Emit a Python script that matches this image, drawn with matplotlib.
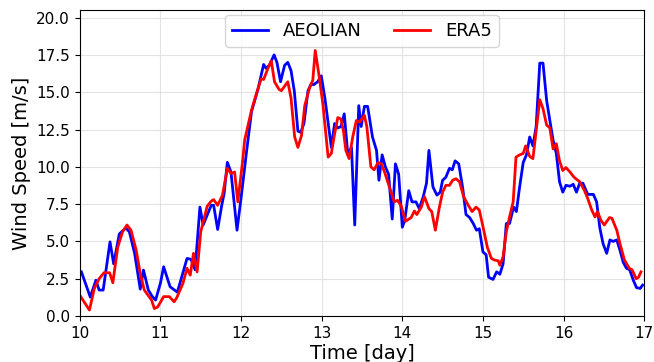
import numpy as np
import matplotlib
matplotlib.use("Agg")
import matplotlib.pyplot as plt

# AEOLIAN winds (blue)
t_aeolian = [10.02, 10.13, 10.2, 10.24, 10.29, 10.375, 10.42, 10.49, 10.57, 10.615,
             10.68, 10.75, 10.79, 10.85, 10.9, 10.94, 11.0, 11.04, 11.12, 11.21,
             11.33, 11.38, 11.43, 11.49, 11.53, 11.63, 11.66, 11.71, 11.76, 11.79,
             11.83, 11.875, 11.95, 12.0, 12.07, 12.13, 12.21, 12.28, 12.31, 12.35,
             12.41, 12.445, 12.49, 12.54, 12.58, 12.62, 12.66, 12.705, 12.74, 12.78,
             12.83, 12.87, 12.9, 12.95, 12.995, 13.04, 13.12, 13.16, 13.2, 13.24,
             13.28, 13.325, 13.37, 13.41, 13.46, 13.49, 13.53, 13.57, 13.63, 13.68,
             13.71, 13.75, 13.79, 13.83, 13.875, 13.915, 13.955, 14.0, 14.03, 14.08,
             14.12, 14.17, 14.21, 14.26, 14.3, 14.33, 14.38, 14.43, 14.47, 14.5,
             14.54, 14.585, 14.62, 14.655, 14.7, 14.75, 14.79, 14.835, 14.88, 14.92,
             14.955, 15.0, 15.04, 15.07, 15.125, 15.17, 15.21, 15.25, 15.29, 15.33,
             15.38, 15.415, 15.455, 15.5, 15.54, 15.58, 15.62, 15.66, 15.705, 15.745,
             15.79, 15.83, 15.87, 15.91, 15.95, 15.99, 16.03, 16.08, 16.12, 16.16,
             16.2, 16.24, 16.3, 16.37, 16.41, 16.45, 16.49, 16.535, 16.575, 16.615,
             16.66, 16.7, 16.74, 16.78, 16.82, 16.865, 16.905, 16.95, 16.98]
v_aeolian = [2.96, 1.27, 2.4, 1.74, 1.74, 4.97, 3.5, 5.5, 5.9, 5.64,
             4.2, 1.8, 3.08, 1.74, 1.3, 1.07, 2.2, 3.3, 1.96, 1.6,
             3.86, 3.8, 3.1, 7.3, 6.1, 7.42, 7.42, 5.8, 7.4, 8.2,
             10.3, 9.65, 5.75, 7.9, 11.1, 13.7, 15.2, 16.86, 16.6, 16.8,
             17.5, 17.0, 15.7, 16.8, 17.0, 16.45, 15.1, 12.4, 12.3, 12.9,
             15.1, 15.55, 15.5, 15.7, 16.1, 14.6, 11.3, 12.9, 12.6, 12.7,
             13.55, 10.8, 11.3, 6.1, 14.1, 12.7, 14.05, 14.05, 12.0, 11.1,
             9.1, 10.8, 10.0, 9.5, 6.5, 10.2, 9.5, 5.95, 6.4, 8.4,
             7.65, 7.65, 7.2, 8.0, 8.9, 11.1, 8.65, 8.1, 8.3, 9.1,
             9.3, 9.9, 9.8, 10.4, 10.2, 8.55, 6.8, 6.6, 6.2, 5.75,
             5.85, 4.3, 4.1, 2.6, 2.45, 2.96, 2.8, 3.5, 6.2, 6.2,
             7.3, 7.0, 8.65, 10.3, 10.8, 12.0, 11.4, 12.7, 16.95, 16.95,
             14.45, 13.1, 11.8, 10.9, 9.0, 8.3, 8.76, 8.7, 8.83, 8.3,
             8.9, 8.9, 8.15, 8.15, 7.65, 5.9, 4.85, 4.2, 5.1, 5.0,
             5.1, 4.4, 3.6, 3.2, 3.1, 2.4, 1.9, 1.85, 2.07]

# ERA5 reanalysis (red)
t_era5 = [10.0, 10.065, 10.12, 10.18, 10.24, 10.3, 10.37, 10.41, 10.47, 10.53,
          10.585, 10.635, 10.7, 10.75, 10.8, 10.845, 10.89, 10.925, 10.965, 11.04,
          11.11, 11.17, 11.2, 11.28, 11.33, 11.37, 11.41, 11.455, 11.5, 11.58,
          11.63, 11.66, 11.71, 11.77, 11.83, 11.875, 11.92, 11.96, 12.02, 12.045,
          12.13, 12.19, 12.25, 12.28, 12.33, 12.375, 12.415, 12.47, 12.5, 12.58,
          12.62, 12.665, 12.705, 12.75, 12.79, 12.85, 12.89, 12.92, 12.965, 13.015,
          13.08, 13.12, 13.16, 13.2, 13.24, 13.27, 13.3, 13.34, 13.385, 13.43,
          13.47, 13.53, 13.56, 13.61, 13.65, 13.7, 13.74, 13.78, 13.84, 13.9,
          13.94, 13.985, 14.04, 14.11, 14.15, 14.18, 14.235, 14.275, 14.33, 14.365,
          14.41, 14.46, 14.5, 14.54, 14.585, 14.625, 14.665, 14.71, 14.76, 14.81,
          14.865, 14.915, 14.955, 15.0, 15.055, 15.105, 15.145, 15.19, 15.21, 15.25,
          15.29, 15.33, 15.375, 15.41, 15.455, 15.5, 15.53, 15.58, 15.62, 15.655,
          15.705, 15.745, 15.79, 15.83, 15.87, 15.91, 15.95, 15.99, 16.03, 16.08,
          16.13, 16.2, 16.26, 16.3, 16.35, 16.39, 16.42, 16.465, 16.505, 16.57,
          16.6, 16.66, 16.7, 16.755, 16.815, 16.85, 16.9, 16.93, 16.96]
v_era5 = [1.4, 0.85, 0.4, 1.85, 2.5, 2.9, 2.9, 2.23, 4.6, 5.64,
          6.1, 5.75, 4.4, 2.85, 1.74, 1.4, 1.07, 0.5, 0.6, 1.3,
          1.3, 0.96, 1.2, 2.2, 3.2, 2.74, 4.2, 2.96, 5.64, 7.36,
          7.7, 7.8, 7.42, 8.1, 9.9, 9.55, 9.65, 7.65, 10.4, 11.8,
          13.8, 14.9, 15.9, 15.85, 16.55, 17.1, 15.7, 15.2, 15.1, 15.7,
          14.6, 12.0, 11.3, 12.1, 14.1, 15.3, 15.8, 17.8, 16.2, 14.2,
          10.65, 10.9, 12.2, 13.3, 13.2, 12.4, 11.1, 10.55, 12.0, 13.1,
          13.0, 13.45, 12.7, 10.0, 9.8, 10.3, 10.2, 9.65, 8.65, 7.65,
          7.76, 7.4, 6.35, 6.6, 7.04, 6.8, 7.3, 8.0, 7.2, 7.0,
          5.75, 7.3, 8.3, 8.76, 8.76, 9.1, 9.2, 9.0, 8.0, 7.5,
          7.0, 7.3, 7.1, 6.0, 4.6, 3.86, 3.75, 3.7, 3.4, 3.97,
          5.64, 6.64, 7.65, 10.65, 10.8, 10.9, 11.4, 10.7, 10.55, 12.2,
          14.5, 13.9, 12.8, 12.6, 11.2, 11.55, 10.4, 9.75, 9.95, 9.65,
          9.3, 9.0, 8.4, 7.87, 7.1, 6.64, 7.0, 6.4, 6.1, 6.6,
          6.55, 5.75, 4.85, 3.75, 3.2, 3.1, 2.5, 2.6, 2.96]

fig = plt.figure(figsize=(6.54, 3.62), dpi=100)
ax = fig.add_axes([0.122, 0.127, 0.863, 0.845])

ax.plot(t_aeolian, v_aeolian, color="blue", lw=2, label="AEOLIAN")
ax.plot(t_era5, v_era5, color="red", lw=2, label="ERA5")

ax.set_xlim(10, 17)
ax.set_ylim(0, 20.5)
ax.set_yticks(np.arange(0, 20.1, 2.5))
ax.set_xticks(range(10, 18))
ax.tick_params(labelsize=11)
ax.grid(True, color="#dddddd", lw=0.8, alpha=0.8)
ax.set_xlabel("Time [day]", fontsize=14, labelpad=2)
ax.set_ylabel("Wind Speed [m/s]", fontsize=14)
ax.legend(loc="upper center", ncol=2, fontsize=13, columnspacing=1.8,
          handlelength=2.0, borderaxespad=0.25)

fig.savefig("out.png", dpi=100)
